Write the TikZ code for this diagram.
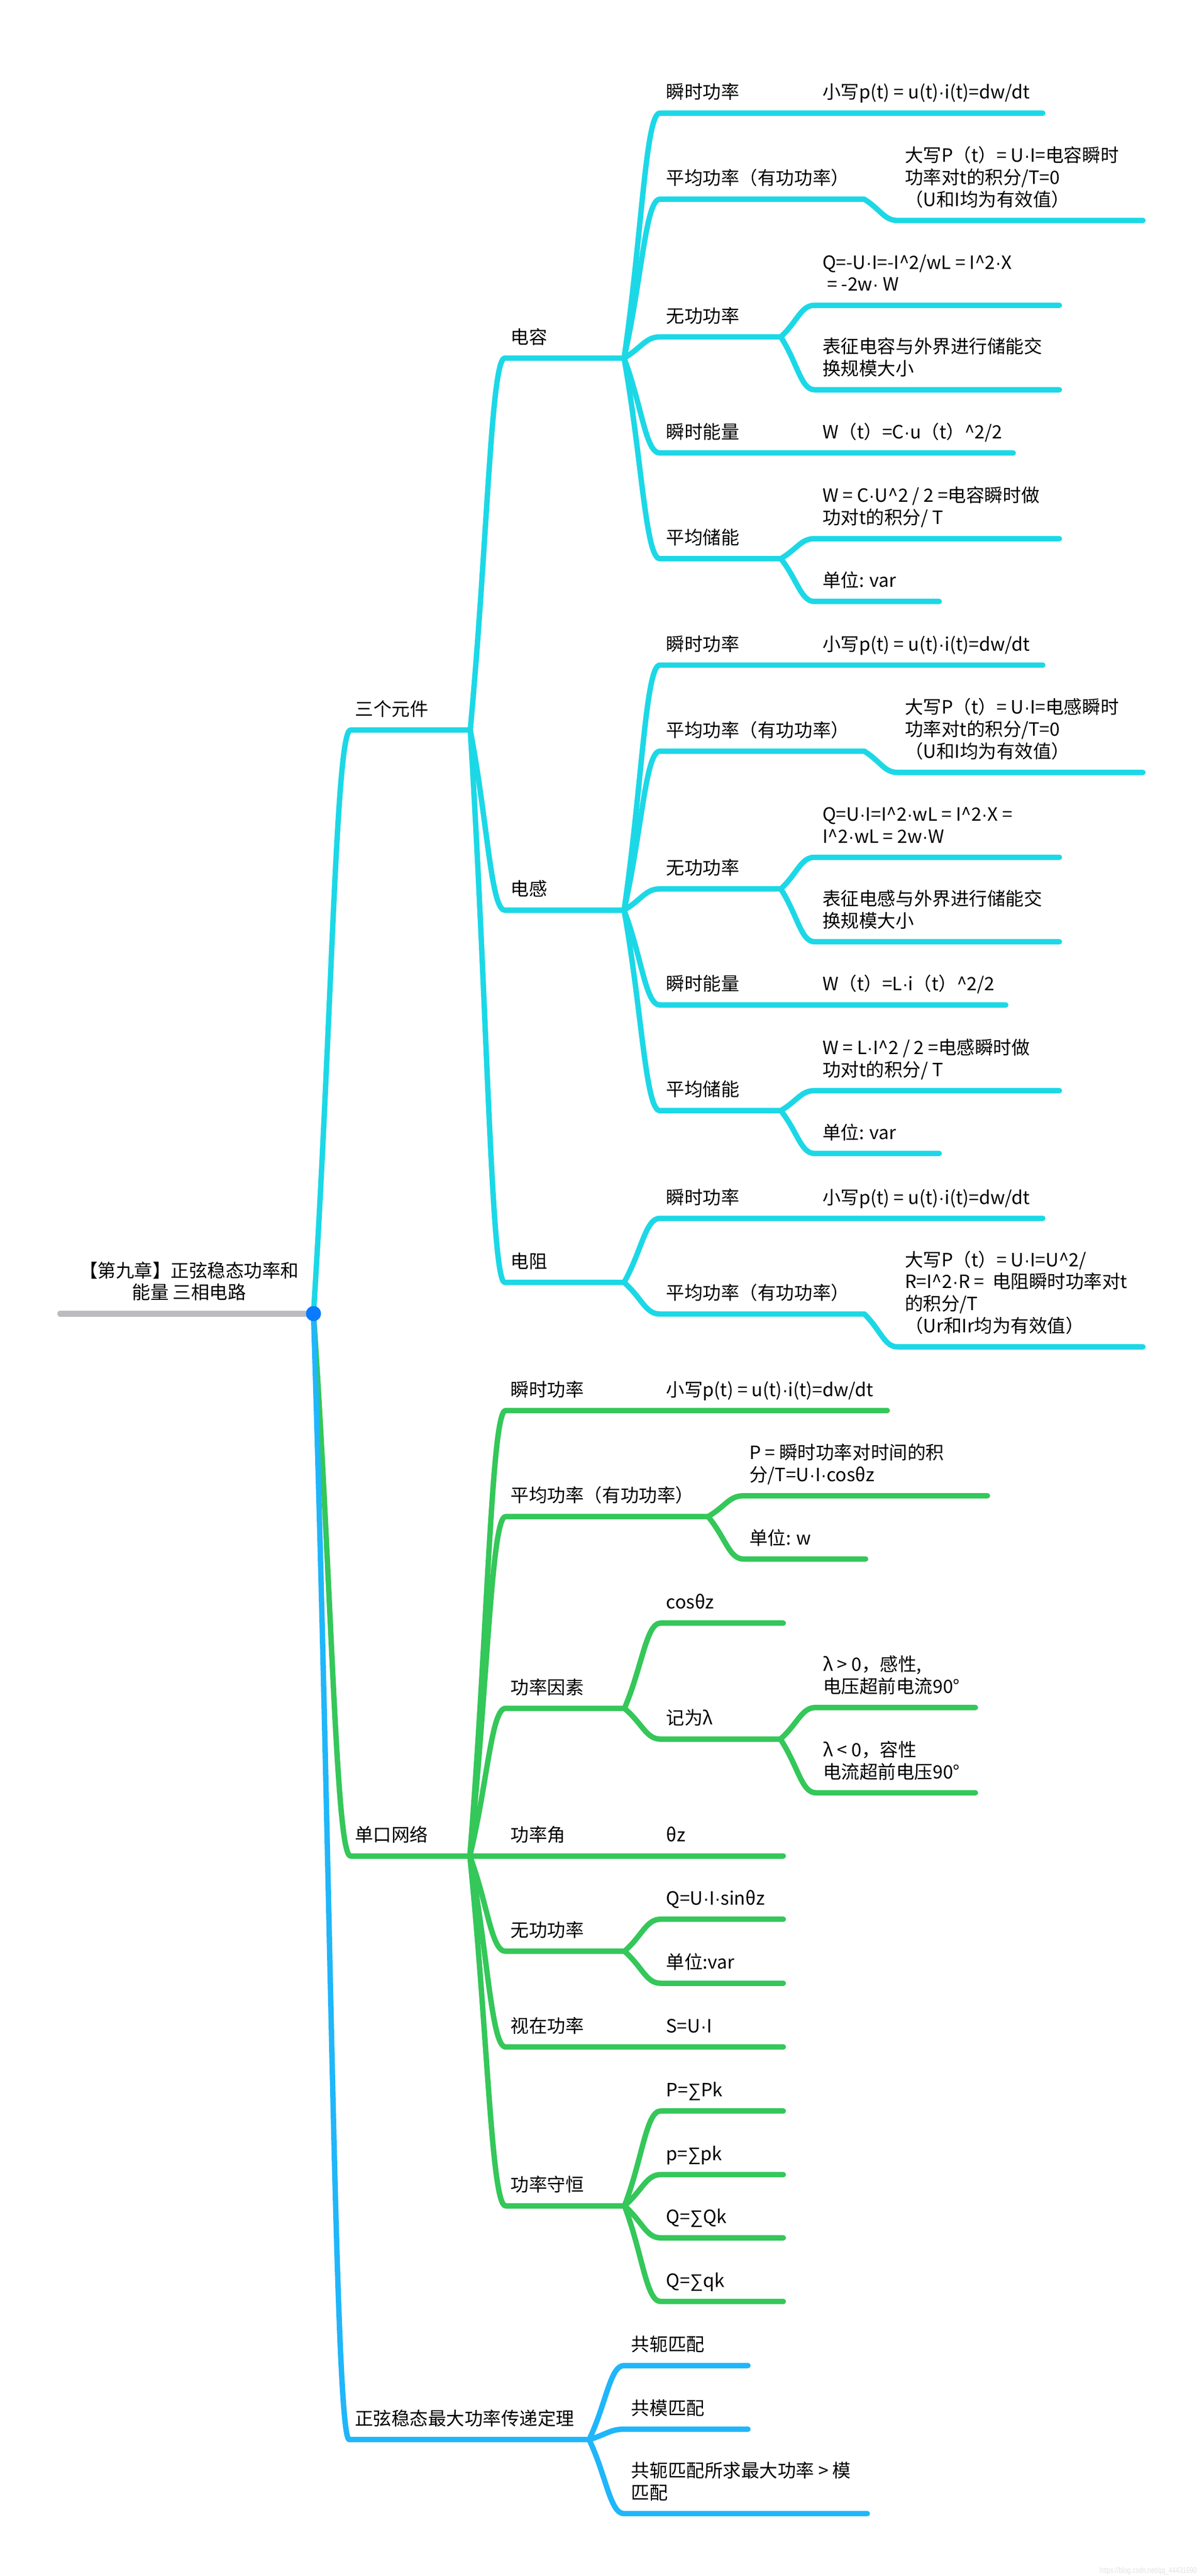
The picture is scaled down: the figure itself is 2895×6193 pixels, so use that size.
\documentclass[tikz,border=0pt]{standalone}
\usepackage{fontspec}
\setmainfont{Noto Sans CJK SC}
\newfontfamily\wmfont{Liberation Sans}
\newfontfamily\lfont{Liberation Sans}
\usetikzlibrary{calc}
\definecolor{cy}{RGB}{28,216,230}
\definecolor{gr}{RGB}{52,199,89}
\definecolor{bl}{RGB}{32,182,250}
\definecolor{dotc}{RGB}{10,122,255}
\definecolor{gy}{RGB}{188,188,192}
\definecolor{wm}{RGB}{226,226,226}
\newcommand\ca{\textasciicircum}
\newcommand\md{{\lfont ·}}
\newcommand\sm{{\lfont ∑}}
\newcommand\cpt[3]{\coordinate (#1) at (#2,#3);}
\newcommand\lbl[5][]{\node[lb,#1] (#2) at (#3,#4-12) {#5};}
\newcommand\bra[3]{\draw (#1) .. controls ($(#1)!0.5!(#2)$) and (perpendicular cs: horizontal line through={(#2)}, vertical line through={($(#1)!0.6!(#2)$)}) .. (#2) -- (#3);}
\begin{document}
\begin{tikzpicture}[x=0.25pt,y=-0.25pt,line width=3.25pt,line cap=round,line join=round,
  lb/.style={anchor=south west,inner sep=0pt,align=left,font=\fontsize{11}{13.25}\selectfont,execute at end node=\strut}]
\useasboundingbox (0,0) rectangle (2895,6193);
% ---------- main coordinates
\cpt{dot}{754}{3158}
\cpt{rootL}{145}{3158}
\cpt{As}{843}{1755}\cpt{Aj}{1131}{1755}
\cpt{Bs}{843}{4462}\cpt{Bj}{1130}{4462}
\cpt{Cs}{840}{5865}\cpt{Cj}{1417}{5865}
\draw[gy,line width=3.6pt] (rootL) -- (dot);
% ---------- 三个元件 (cyan)
\begin{scope}[draw=cy]
\bra{dot}{As}{Aj}
% 电容
\cpt{A1s}{1214}{861}\cpt{A1j}{1501}{861}
\bra{Aj}{A1s}{A1j}
\cpt{A1as}{1587}{272}\cpt{A1ae}{2508}{272}
\bra{A1j}{A1as}{A1ae}
\cpt{A1bs}{1587}{479}\cpt{A1bm}{2079}{479}\cpt{A1bgs}{2159}{530}\cpt{A1bge}{2749}{530}
\bra{A1j}{A1bs}{A1bm}
\bra{A1bm}{A1bgs}{A1bge}
\cpt{A1cs}{1587}{810}\cpt{A1cj}{1878}{810}
\bra{A1j}{A1cs}{A1cj}
\cpt{A1c1s}{1959}{734}\cpt{A1c1e}{2548}{734}
\cpt{A1c2s}{1959}{937}\cpt{A1c2e}{2548}{937}
\bra{A1cj}{A1c1s}{A1c1e}
\bra{A1cj}{A1c2s}{A1c2e}
\cpt{A1ds}{1587}{1089}\cpt{A1de}{2437}{1089}
\bra{A1j}{A1ds}{A1de}
\cpt{A1es}{1587}{1343}\cpt{A1ej}{1878}{1343}
\bra{A1j}{A1es}{A1ej}
\cpt{A1e1s}{1959}{1295}\cpt{A1e1e}{2548}{1295}
\cpt{A1e2s}{1959}{1446}\cpt{A1e2e}{2259}{1446}
\bra{A1ej}{A1e1s}{A1e1e}
\bra{A1ej}{A1e2s}{A1e2e}
% 电感
\cpt{A2s}{1214}{2188}\cpt{A2j}{1501}{2188}
\bra{Aj}{A2s}{A2j}
\cpt{A2as}{1587}{1599}\cpt{A2ae}{2508}{1599}
\bra{A2j}{A2as}{A2ae}
\cpt{A2bs}{1587}{1806}\cpt{A2bm}{2079}{1806}\cpt{A2bgs}{2159}{1857}\cpt{A2bge}{2749}{1857}
\bra{A2j}{A2bs}{A2bm}
\bra{A2bm}{A2bgs}{A2bge}
\cpt{A2cs}{1587}{2137}\cpt{A2cj}{1878}{2137}
\bra{A2j}{A2cs}{A2cj}
\cpt{A2c1s}{1959}{2061}\cpt{A2c1e}{2548}{2061}
\cpt{A2c2s}{1959}{2264}\cpt{A2c2e}{2548}{2264}
\bra{A2cj}{A2c1s}{A2c1e}
\bra{A2cj}{A2c2s}{A2c2e}
\cpt{A2ds}{1587}{2416}\cpt{A2de}{2419}{2416}
\bra{A2j}{A2ds}{A2de}
\cpt{A2es}{1587}{2670}\cpt{A2ej}{1878}{2670}
\bra{A2j}{A2es}{A2ej}
\cpt{A2e1s}{1959}{2622}\cpt{A2e1e}{2548}{2622}
\cpt{A2e2s}{1959}{2773}\cpt{A2e2e}{2259}{2773}
\bra{A2ej}{A2e1s}{A2e1e}
\bra{A2ej}{A2e2s}{A2e2e}
% 电阻
\cpt{A3s}{1214}{3083}\cpt{A3j}{1501}{3083}
\bra{Aj}{A3s}{A3j}
\cpt{A3as}{1587}{2929}\cpt{A3ae}{2508}{2929}
\bra{A3j}{A3as}{A3ae}
\cpt{A3bs}{1587}{3159}\cpt{A3bm}{2079}{3159}\cpt{A3bgs}{2159}{3238}\cpt{A3bge}{2749}{3238}
\bra{A3j}{A3bs}{A3bm}
\bra{A3bm}{A3bgs}{A3bge}
\end{scope}
% ---------- 单口网络 (green)
\begin{scope}[draw=gr]
\cpt{B4e}{1884}{4462}
\bra{dot}{Bs}{B4e}
\cpt{B1s}{1216}{3391}\cpt{B1e}{2134}{3391}
\bra{Bj}{B1s}{B1e}
\cpt{B2s}{1216}{3646}\cpt{B2j}{1703}{3646}
\bra{Bj}{B2s}{B2j}
\cpt{B21s}{1788}{3596}\cpt{B21e}{2375}{3596}
\cpt{B22s}{1788}{3748}\cpt{B22e}{2082}{3748}
\bra{B2j}{B21s}{B21e}
\bra{B2j}{B22s}{B22e}
\cpt{B3s}{1216}{4107}\cpt{B3j}{1502}{4107}
\bra{Bj}{B3s}{B3j}
\cpt{B31s}{1589}{3902}\cpt{B31e}{1884}{3902}
\cpt{B32s}{1589}{4181}\cpt{B32j}{1877}{4181}
\bra{B3j}{B31s}{B31e}
\bra{B3j}{B32s}{B32j}
\cpt{B321s}{1962}{4105}\cpt{B321e}{2346}{4105}
\cpt{B322s}{1962}{4310}\cpt{B322e}{2346}{4310}
\bra{B32j}{B321s}{B321e}
\bra{B32j}{B322s}{B322e}
\cpt{B5s}{1216}{4691}\cpt{B5j}{1502}{4691}
\bra{Bj}{B5s}{B5j}
\cpt{B51s}{1589}{4614}\cpt{B51e}{1884}{4614}
\cpt{B52s}{1589}{4768}\cpt{B52e}{1884}{4768}
\bra{B5j}{B51s}{B51e}
\bra{B5j}{B52s}{B52e}
\cpt{B6s}{1216}{4921}\cpt{B6e}{1884}{4921}
\bra{Bj}{B6s}{B6e}
\cpt{B7s}{1216}{5303}\cpt{B7j}{1502}{5303}
\bra{Bj}{B7s}{B7j}
\cpt{B71s}{1589}{5075}\cpt{B71e}{1884}{5075}
\cpt{B72s}{1589}{5228}\cpt{B72e}{1884}{5228}
\cpt{B73s}{1589}{5380}\cpt{B73e}{1884}{5380}
\cpt{B74s}{1589}{5533}\cpt{B74e}{1884}{5533}
\bra{B7j}{B71s}{B71e}
\bra{B7j}{B72s}{B72e}
\bra{B7j}{B73s}{B73e}
\bra{B7j}{B74s}{B74e}
\end{scope}
% ---------- 正弦稳态最大功率传递定理 (blue)
\begin{scope}[draw=bl]
\bra{dot}{Cs}{Cj}
\cpt{C1s}{1501}{5687}\cpt{C1e}{1799}{5687}
\cpt{C2s}{1501}{5840}\cpt{C2e}{1799}{5840}
\cpt{C3s}{1501}{6043}\cpt{C3e}{2086}{6043}
\bra{Cj}{C1s}{C1e}
\bra{Cj}{C2s}{C2e}
\bra{Cj}{C3s}{C3e}
\end{scope}
\fill[dotc] (dot) circle[radius=4.5pt];
% ---------- texts
\node[lb,anchor=south,align=center] (root) at (455,3146) {【第九章】正弦稳态功率和\\能量 三相电路};
\lbl{tA}{848}{1755}{三个元件}
\lbl{tB}{847}{4462}{单口网络}
\lbl{tC}{847}{5865}{正弦稳态最大功率传递定理}
% 电容
\lbl{tA1}{1222}{861}{电容}
\lbl{tA1a}{1596}{272}{瞬时功率}
\lbl{tA1ag}{1972}{272}{小写p(t) = u(t)\md{}i(t)=dw/dt}
\lbl{tA1b}{1596}{479}{平均功率（有功功率）}
\lbl{tA1bg}{2170}{530}{大写P（t）= U\md{}I=电容瞬时\\功率对t的积分/T=0\\（U和I均为有效值）}
\lbl{tA1c}{1596}{810}{无功功率}
\lbl{tA1c1}{1972}{734}{Q=-U\md{}I=-I\ca2/wL = I\ca2\md{}X\\\hspace*{0.25em}= -2w\md{} W}
\lbl{tA1c2}{1972}{937}{表征电容与外界进行储能交\\换规模大小}
\lbl{tA1d}{1596}{1089}{瞬时能量}
\lbl{tA1dg}{1972}{1089}{W（t）=C\md{}u（t）\ca2/2}
\lbl{tA1e}{1596}{1343}{平均储能}
\lbl{tA1e1}{1972}{1295}{W = C\md{}U\ca2 / 2 =电容瞬时做\\功对t的积分/ T}
\lbl{tA1e2}{1972}{1446}{单位: var}
% 电感
\lbl{tA2}{1222}{2188}{电感}
\lbl{tA2a}{1596}{1599}{瞬时功率}
\lbl{tA2ag}{1972}{1599}{小写p(t) = u(t)\md{}i(t)=dw/dt}
\lbl{tA2b}{1596}{1806}{平均功率（有功功率）}
\lbl{tA2bg}{2170}{1857}{大写P（t）= U\md{}I=电感瞬时\\功率对t的积分/T=0\\（U和I均为有效值）}
\lbl{tA2c}{1596}{2137}{无功功率}
\lbl{tA2c1}{1972}{2061}{Q=U\md{}I=I\ca2\md{}wL = I\ca2\md{}X =\\I\ca2\md{}wL = 2w\md{}W}
\lbl{tA2c2}{1972}{2264}{表征电感与外界进行储能交\\换规模大小}
\lbl{tA2d}{1596}{2416}{瞬时能量}
\lbl{tA2dg}{1972}{2416}{W（t）=L\md{}i（t）\ca2/2}
\lbl{tA2e}{1596}{2670}{平均储能}
\lbl{tA2e1}{1972}{2622}{W = L\md{}I\ca2 / 2 =电感瞬时做\\功对t的积分/ T}
\lbl{tA2e2}{1972}{2773}{单位: var}
% 电阻
\lbl{tA3}{1222}{3083}{电阻}
\lbl{tA3a}{1596}{2929}{瞬时功率}
\lbl{tA3ag}{1972}{2929}{小写p(t) = u(t)\md{}i(t)=dw/dt}
\lbl{tA3b}{1596}{3159}{平均功率（有功功率）}
\lbl{tA3bg}{2170}{3238}{大写P（t）= U\md{}I=U\ca2/\\R=I\ca2\md{}R =\ \ 电阻瞬时功率对t\\的积分/T\\（Ur和Ir均为有效值）}
% 单口网络
\lbl{tB1}{1222}{3391}{瞬时功率}
\lbl{tB1g}{1596}{3391}{小写p(t) = u(t)\md{}i(t)=dw/dt}
\lbl{tB2}{1222}{3646}{平均功率（有功功率）}
\lbl{tB21}{1796}{3596}{P = 瞬时功率对时间的积\\分/T=U\md{}I\md{}cosθz}
\lbl{tB22}{1796}{3748}{单位: w}
\lbl{tB3}{1222}{4107}{功率因素}
\lbl{tB31}{1596}{3902}{cosθz}
\lbl{tB32}{1596}{4181}{记为λ}
\lbl{tB321}{1973}{4105}{λ > 0，感性,\\电压超前电流90°}
\lbl{tB322}{1973}{4310}{λ < 0，容性\\电流超前电压90°}
\lbl{tB4}{1222}{4462}{功率角}
\lbl{tB4g}{1596}{4462}{θz}
\lbl{tB5}{1222}{4691}{无功功率}
\lbl{tB51}{1596}{4614}{Q=U\md{}I\md{}sinθz}
\lbl{tB52}{1596}{4768}{单位:var}
\lbl{tB6}{1222}{4921}{视在功率}
\lbl{tB6g}{1596}{4921}{S=U\md{}I}
\lbl{tB7}{1222}{5303}{功率守恒}
\lbl{tB71}{1596}{5075}{P=\sm{}Pk}
\lbl{tB72}{1596}{5228}{p=\sm{}pk}
\lbl{tB73}{1596}{5380}{Q=\sm{}Qk}
\lbl{tB74}{1596}{5533}{Q=\sm{}qk}
% 最大功率
\lbl{tC1}{1512}{5687}{共轭匹配}
\lbl{tC2}{1512}{5840}{共模匹配}
\lbl{tC3}{1512}{6043}{共轭匹配所求最大功率 > 模\\匹配}
% watermark
\node[anchor=base east,inner sep=0pt,text=wm,font=\wmfont\fontsize{5}{6}\selectfont] (wmk) at (2885,6186) {\scalebox{0.76}[1]{https://blog.csdn.net/qq\_44431690}};
\end{tikzpicture}
\end{document}
